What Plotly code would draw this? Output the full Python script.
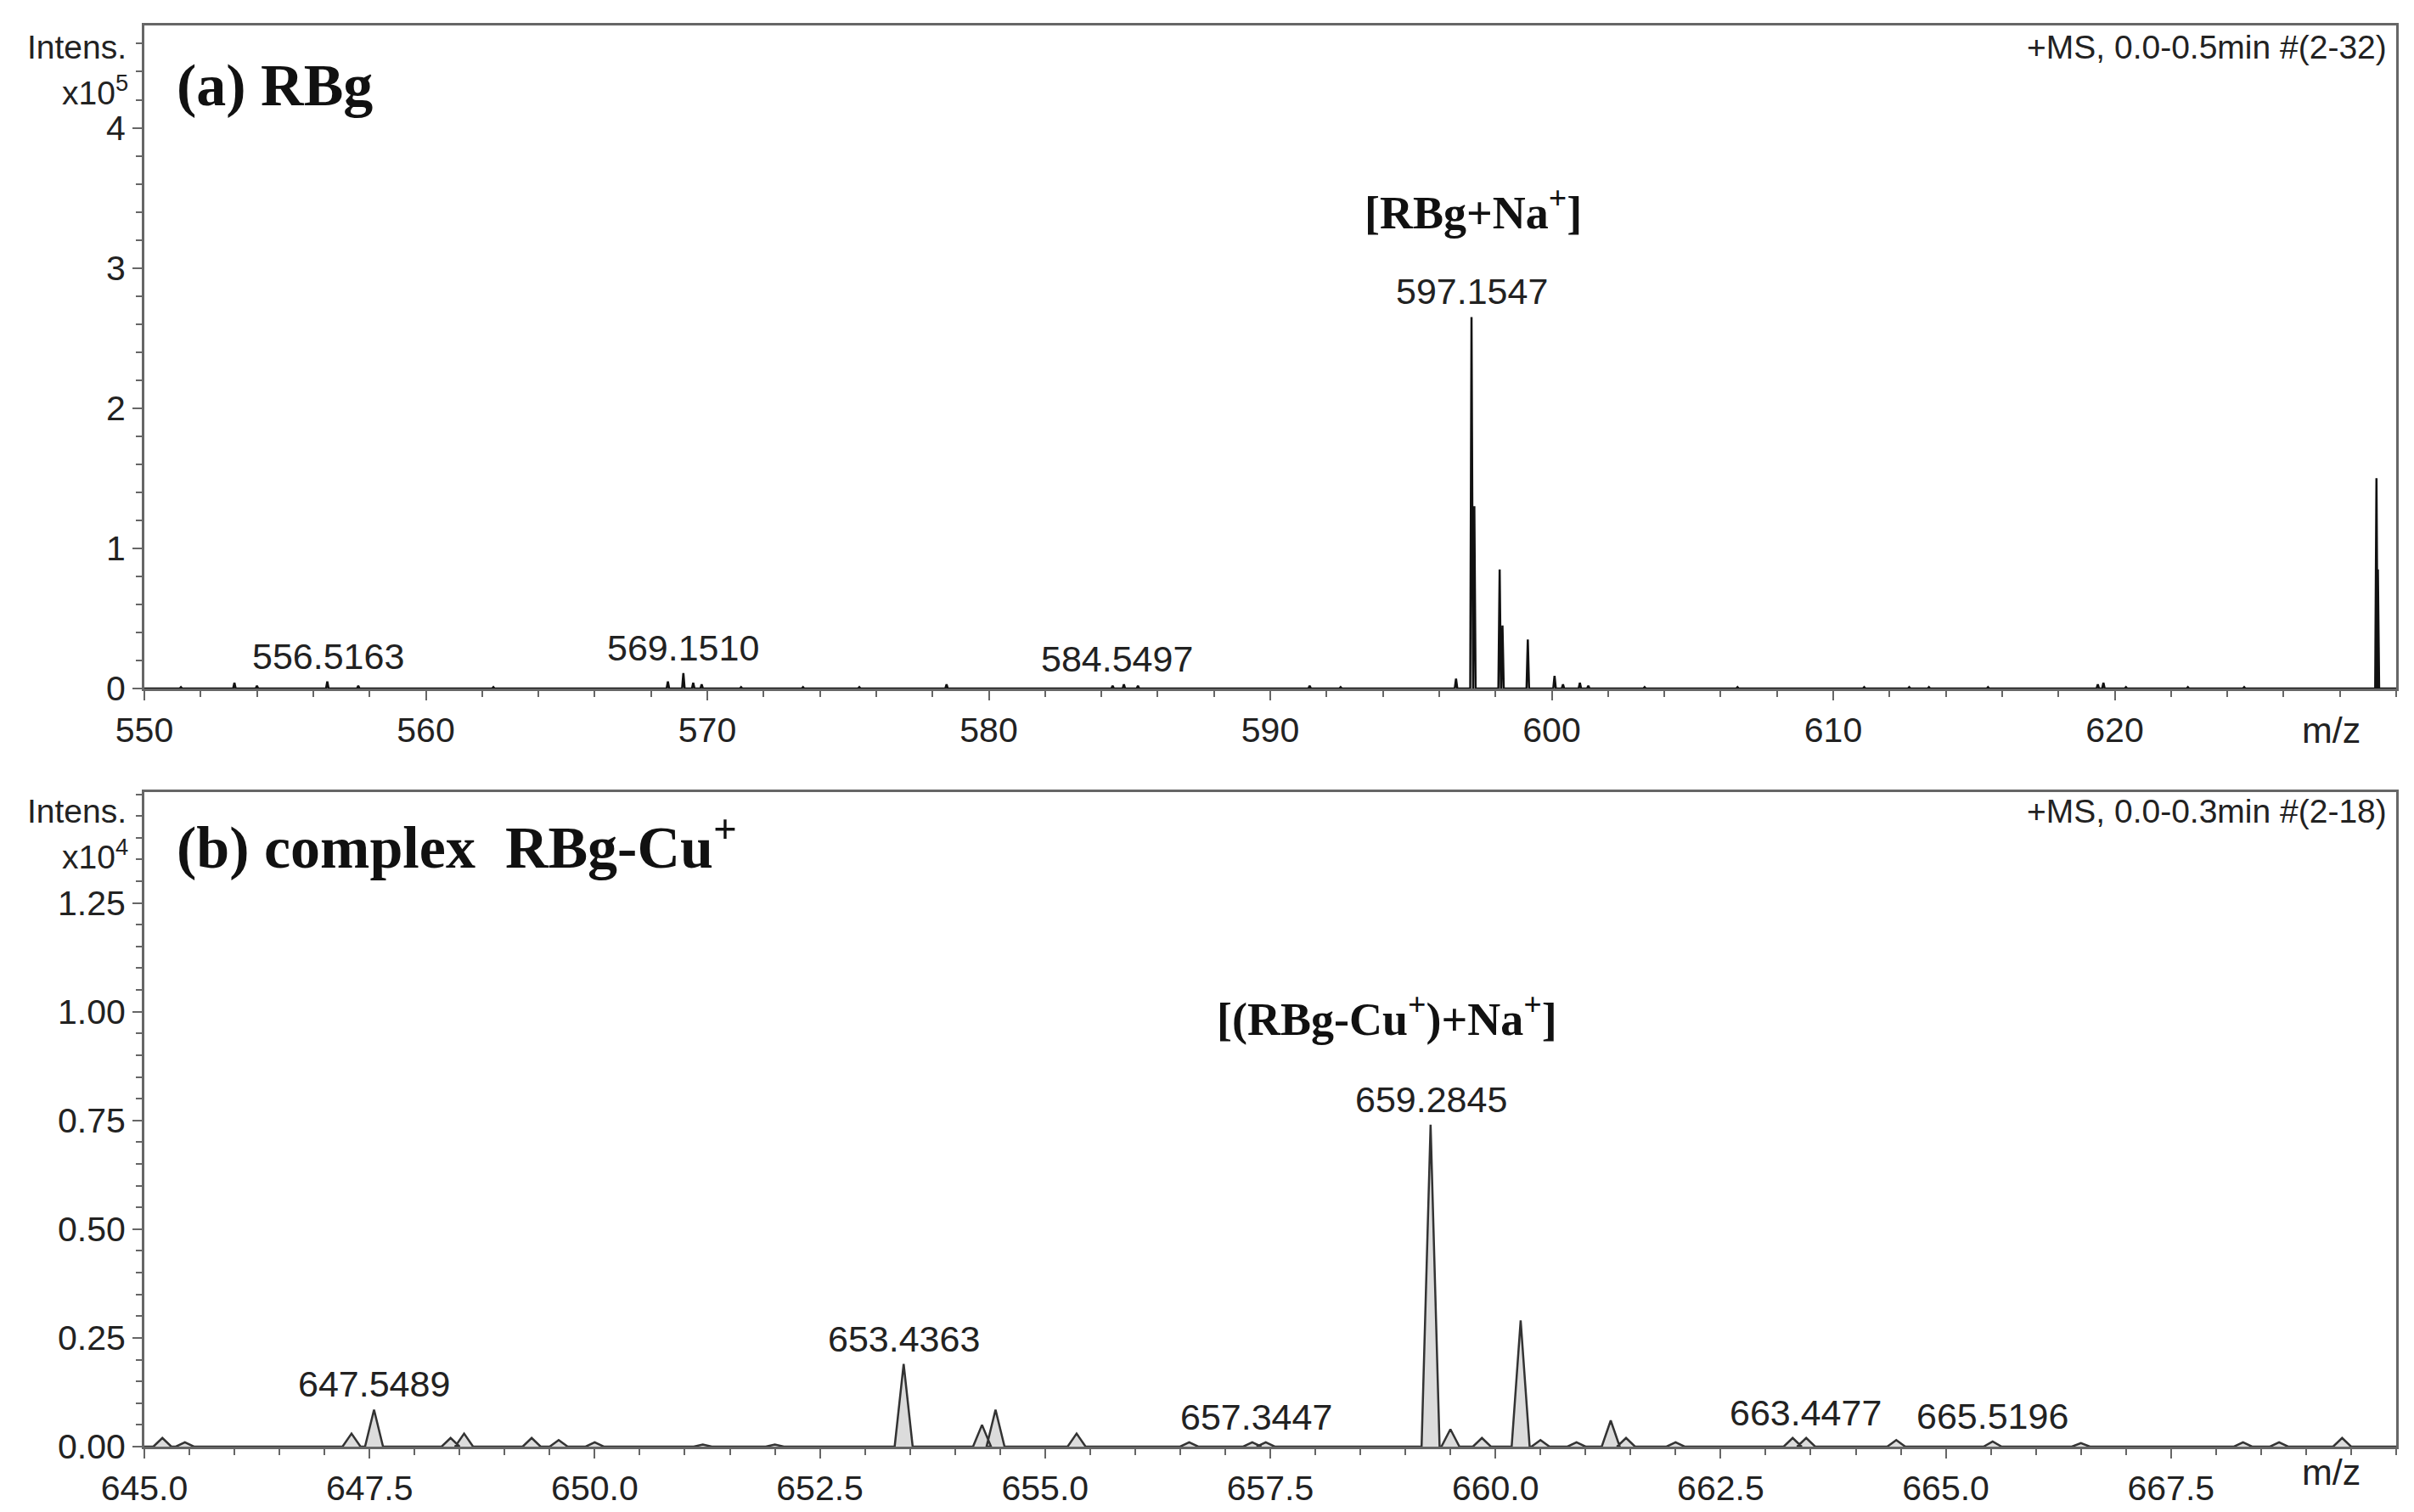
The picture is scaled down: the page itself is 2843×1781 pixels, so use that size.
import plotly.graph_objects as go

# ---------- Panel (a) RBg : stick peaks ----------
a_mz = [551.3, 553.2, 554.0, 556.5, 557.6, 562.4, 568.6, 569.15, 569.5, 569.8, 571.2, 573.4, 575.4, 578.5,
        584.4, 584.8, 585.3, 591.4, 592.5, 596.6, 597.15, 597.25, 598.15, 598.25, 599.15, 600.1, 600.4, 601.0,
        601.3, 603.3, 606.6, 611.1, 612.7, 613.4, 615.5, 619.4, 619.6, 620.4, 622.6, 624.6, 629.3, 629.35]
a_h = [0.01, 0.04, 0.02, 0.05, 0.02, 0.01, 0.05, 0.11, 0.04, 0.03, 0.01, 0.01, 0.01, 0.03,
       0.02, 0.03, 0.02, 0.02, 0.01, 0.07, 2.65, 1.3, 0.85, 0.45, 0.35, 0.09, 0.03, 0.04,
       0.02, 0.01, 0.01, 0.01, 0.01, 0.01, 0.01, 0.03, 0.04, 0.01, 0.01, 0.01, 1.5, 0.85]
a_labels = ["556.5163", "569.1510", "584.5497", "597.1547"]
a_label_mz = [556.5163, 569.1510, 584.5497, 597.1547]
a_label_h = [0.05, 0.11, 0.03, 2.65]

# ---------- Panel (b) complex RBg-Cu+ : profile peaks ----------
b_mz = [645.2, 645.45, 647.3, 647.55, 648.4, 648.55, 649.3, 649.6, 650.0, 651.2, 652.0, 653.43, 654.3, 654.45,
        655.35, 656.6, 657.3, 657.45, 659.28, 659.5, 659.85, 660.28, 660.5, 660.9, 661.28, 661.45, 662.0,
        663.3, 663.45, 664.45, 665.52, 666.5, 668.3, 668.7, 669.4]
b_h = [0.02, 0.01, 0.03, 0.085, 0.02, 0.03, 0.02, 0.015, 0.01, 0.005, 0.005, 0.19, 0.05, 0.085,
       0.03, 0.01, 0.01, 0.01, 0.74, 0.04, 0.02, 0.29, 0.015, 0.01, 0.06, 0.02, 0.01,
       0.02, 0.02, 0.015, 0.012, 0.008, 0.01, 0.01, 0.02]
b_labels = ["647.5489", "653.4363", "657.3447", "659.2845", "663.4477", "665.5196"]
b_label_mz = [647.5489, 653.4363, 657.3447, 659.2845, 663.4477, 665.5196]
b_label_h = [0.085, 0.19, 0.01, 0.74, 0.02, 0.012]

def profile(centers, heights, w, lo, hi):
    pts = sorted(zip(centers, heights))
    xs, ys = [lo], [0]
    for c, h in pts:
        xs += [c - w, c, c + w]
        ys += [0, h, 0]
    xs.append(hi); ys.append(0)
    return xs, ys

ax, ay = profile(a_mz, a_h, 0.045, 550, 630)
bx, by = profile(b_mz, b_h, 0.1, 645, 670)

fig = go.Figure()
fig.add_trace(go.Scatter(x=ax, y=ay, mode="lines", line=dict(color="#111", width=2.5),
                         xaxis="x", yaxis="y", hoverinfo="skip"))
fig.add_trace(go.Scatter(x=bx, y=by, mode="lines", fill="tozeroy", fillcolor="#dcdcdc",
                         line=dict(color="#333", width=2.5), xaxis="x2", yaxis="y2", hoverinfo="skip"))

TF = "Liberation Sans Narrow, Liberation Sans, Arial"
SF = "Liberation Serif, Times New Roman"
axc = "#666"
common = dict(showline=True, linecolor=axc, linewidth=3, mirror=True, ticks="outside",
              ticklen=11, tickwidth=2, tickcolor=axc, showgrid=False, zeroline=False, automargin=False,
              tickfont=dict(family=TF, size=41, color="#222"))
mn = lambda d: dict(dtick=d, ticklen=7, ticks="outside", tickcolor=axc, tickwidth=2)

W, H = 2843, 1781
L, R, T, B = 162, 29, 22, 85
ph = H - T - B
def yd(top, bot):
    return [(H - B - bot) / ph, (H - B - top) / ph]

fig.update_layout(
    width=W, height=H, margin=dict(l=L, r=R, t=T, b=B, autoexpand=False),
    paper_bgcolor="white", plot_bgcolor="white", showlegend=False,
    xaxis=dict(common, domain=[0, 1], range=[550, 630], tickvals=[550, 560, 570, 580, 590, 600, 610, 620],
               minor=mn(2), anchor="y"),
    yaxis=dict(common, domain=yd(22, 803), range=[0, 4.73], tickvals=[0, 1, 2, 3, 4],
               minor=mn(0.2), anchor="x"),
    xaxis2=dict(common, domain=[0, 1], range=[645, 670],
                tickvals=[645, 647.5, 650, 652.5, 655, 657.5, 660, 662.5, 665, 667.5],
                ticktext=["645.0", "647.5", "650.0", "652.5", "655.0", "657.5", "660.0", "662.5", "665.0", "667.5"],
                minor=mn(0.5), anchor="y2"),
    yaxis2=dict(common, domain=yd(925, 1696), range=[0, 1.505],
                tickvals=[0, 0.25, 0.5, 0.75, 1.0, 1.25],
                ticktext=["0.00", "0.25", "0.50", "0.75", "1.00", "1.25"],
                minor=mn(0.05), anchor="x2"),
)

def px(x): return (x - L) / (W - L - R)
def py(y): return (H - B - y) / ph

lf = dict(family=TF, size=43, color="#222")
sf = dict(family=TF, size=39, color="#222")
ann = []
for t, m, h in zip(a_labels, a_label_mz, a_label_h):
    ann.append(dict(x=m, y=h, xref="x", yref="y", text=t, showarrow=False, yanchor="bottom", yshift=4, font=lf))
for t, m, h in zip(b_labels, b_label_mz, b_label_h):
    ann.append(dict(x=m, y=h, xref="x2", yref="y2", text=t, showarrow=False, yanchor="bottom", yshift=4, font=lf))
ann += [
    dict(x=597.2, y=3.42, xref="x", yref="y", text="<b>[RBg+Na<sup>+</sup>]</b>", showarrow=False,
         font=dict(family=SF, size=54, color="#111")),
    dict(x=658.8, y=0.99, xref="x2", yref="y2", text="<b>[(RBg-Cu<sup>+</sup>)+Na<sup>+</sup>]</b>", showarrow=False,
         font=dict(family=SF, size=54, color="#111")),
    dict(x=px(198), y=py(52), xref="paper", yref="paper", text="<b>(a) RBg</b>", showarrow=False,
         xanchor="left", font=dict(family=SF, size=70, color="#111")),
    dict(x=px(198), y=py(985), xref="paper", yref="paper", text="<b>(b) complex  RBg-Cu<sup>+</sup></b>",
         showarrow=False, xanchor="left", font=dict(family=SF, size=70, color="#111")),
    dict(x=px(2805), y=py(24), xref="paper", yref="paper", text="+MS, 0.0-0.5min #(2-32)", showarrow=False,
         xanchor="right", font=sf),
    dict(x=px(2805), y=py(948), xref="paper", yref="paper", text="+MS, 0.0-0.3min #(2-18)", showarrow=False,
         xanchor="right", font=sf),
    dict(x=px(143), y=py(24), xref="paper", yref="paper", text="Intens.", showarrow=False,
         xanchor="right", font=sf),
    dict(x=px(145), y=py(72), xref="paper", yref="paper", text="x10<sup>5</sup>", showarrow=False,
         xanchor="right", font=sf),
    dict(x=px(143), y=py(948), xref="paper", yref="paper", text="Intens.", showarrow=False,
         xanchor="right", font=sf),
    dict(x=px(145), y=py(998), xref="paper", yref="paper", text="x10<sup>4</sup>", showarrow=False,
         xanchor="right", font=sf),
    dict(x=px(2774), y=py(852), xref="paper", yref="paper", text="m/z", showarrow=False, font=lf),
    dict(x=px(2774), y=py(1752), xref="paper", yref="paper", text="m/z", showarrow=False, font=lf),
]
fig.update_layout(annotations=ann)
fig.write_html("out.html")
